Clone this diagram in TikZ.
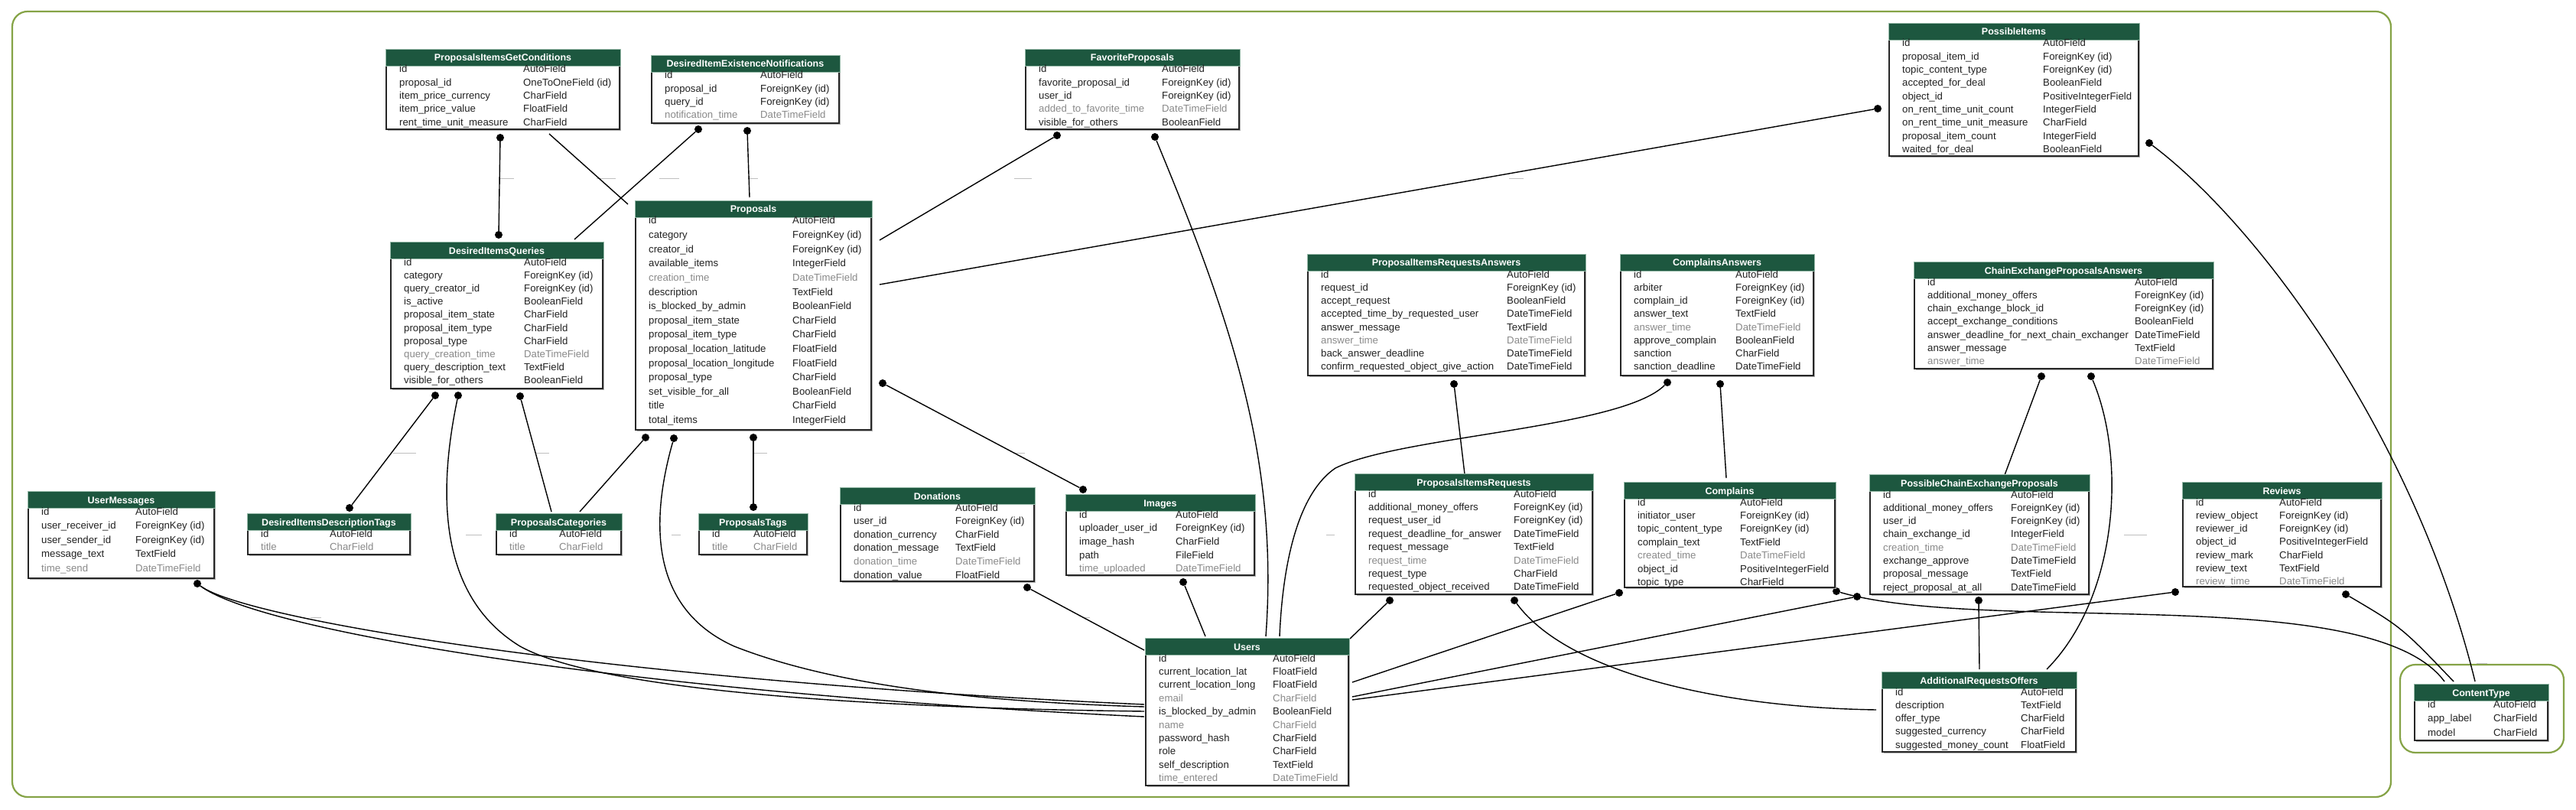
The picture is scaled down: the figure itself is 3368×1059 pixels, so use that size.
\documentclass[tikz,border=0pt]{standalone}
\usepackage{fontspec}
\setmainfont{Liberation Sans}
\definecolor{hdrgreen}{RGB}{29,87,63}
\definecolor{hdredge}{RGB}{150,185,168}
\definecolor{framegreen}{RGB}{133,163,70}
\definecolor{fldgray}{RGB}{138,138,138}
\definecolor{fldblack}{RGB}{34,34,34}
\newcommand{\FK}{ForeignKey (id)}
\tikzset{
  tabbody/.style={draw=black!85, fill=white, line width=1.6pt},
  tabshadow/.style={fill=black!30},
  tabhead/.style={fill=hdrgreen, draw=hdredge, line width=0.8pt},
  tabtitle/.style={text=white, font=\fontsize{12.5}{14}\selectfont\bfseries, inner sep=0, anchor=base},
  fld/.style={text=fldblack, font=\fontsize{13.2}{15}\selectfont, inner sep=0, anchor=base west},
  fldg/.style={fld, text=fldgray},
  dot/.style={circle, fill=black, inner sep=0, minimum size=10pt},
  rel/.style={draw=black, line width=1.4pt},
  lbl/.style={draw=black!25, line width=0.8pt},
  frame/.style={draw=framegreen, line width=2.2pt, rounded corners=20pt}
}
\newcommand{\ertable}[9]{%
  \fill[tabshadow] (#3+2,#4+2) rectangle (#5+2,#6+2);
  \draw[tabbody] (#3,#4) rectangle (#5,#6);
  \draw[tabhead] (#3-1,#4-1) rectangle (#5+1,#4+21);
  \node[tabtitle] (#1) at ({(#3+#5)/2},#4+15) {#2};
  \foreach \fn/\ft/\fs [count=\k] in {#9}{
    \node[\fs] (#1n\k) at (#3+17,{#4+30+(\k-1)*#8}) {\fn};
    \node[\fs] (#1t\k) at (#7,{#4+30+(\k-1)*#8}) {\ft};
  }%
}
\begin{document}
\begin{tikzpicture}[x=1pt,y=-1pt]
\fill[white] (0,0) rectangle (3368,1059);
\useasboundingbox (0,0) rectangle (3368,1059);
\draw[frame] (16,15) rectangle (3126,1042);
\draw[frame] (3138,869) rectangle (3352,984);

\foreach \xa/\xb/\yy in {654/672/233, 780/805/233, 862/888/233, 978/991/233, 1326/1349/233, 1973/1992/233,
  514/544/592, 700/718/592, 986/1003/592, 1326/1340/592, 609/630/699, 878/890/699, 1734/1745/699,
  2777/2807/699, 406/420/807, 1417/1425/807, 3238/3252/867}
  \draw[lbl] (\xa,\yy) -- (\xb,\yy);

\node[dot] (pigcD) at (654,180) {};
\node[dot] (diqU) at (652,307) {};
\node[dot] (dienD1) at (913,169) {};
\node[dot] (dienD2) at (977,171) {};
\node[dot] (favD1) at (1382,177) {};
\node[dot] (favD2) at (1510,179) {};
\node[dot] (positD1) at (2455,142) {};
\node[dot] (positD2) at (2810,187) {};
\node[dot] (propR) at (1154,501) {};
\node[dot] (imgU) at (1416,640) {};
\node[dot] (diqD1) at (569,517) {};
\node[dot] (diqD2) at (599,517) {};
\node[dot] (diqD3) at (680,518) {};
\node[dot] (didtU) at (457,664) {};
\node[dot] (propD1) at (844,572) {};
\node[dot] (propD2) at (881,573) {};
\node[dot] (propD3) at (985,572) {};
\node[dot] (ptagU) at (985,663) {};
\node[dot] (umD) at (258,763) {};
\node[dot] (donD) at (1343,768) {};
\node[dot] (imgD) at (1547,761) {};
\node[dot] (piraD) at (1901,502) {};
\node[dot] (caD1) at (2180,500) {};
\node[dot] (caD2) at (2249,502) {};
\node[dot] (cepaD1) at (2669,492) {};
\node[dot] (cepaD2) at (2734,492) {};
\node[dot] (pirD1) at (1817,785) {};
\node[dot] (pirD2) at (1980,785) {};
\node[dot] (compD1) at (2117,775) {};
\node[dot] (compD2) at (2401,773) {};
\node[dot] (pcepD1) at (2428,780) {};
\node[dot] (pcepD2) at (2587,785) {};
\node[dot] (revD1) at (2844,774) {};
\node[dot] (revD2) at (3067,777) {};

\coordinate (pigcR) at (718,175);
\coordinate (propTL) at (821,267);
\coordinate (diqTR) at (751,313);
\coordinate (propT) at (980,258);
\coordinate (propR1) at (1150,314);
\coordinate (propR2) at (1150,372);
\coordinate (usersT1) at (1576,832);
\coordinate (usersT2) at (1655,832);
\coordinate (usersT3) at (1673,832);
\coordinate (usersTR) at (1765,835);
\coordinate (usersL1) at (1496,850);
\coordinate (usersL2) at (1496,921);
\coordinate (usersL3) at (1496,924);
\coordinate (usersL4) at (1496,930);
\coordinate (usersL5) at (1496,937);
\coordinate (usersR1) at (1768,892);
\coordinate (usersR2) at (1768,911);
\coordinate (usersR3) at (1768,915);
\coordinate (pcatU1) at (721,669);
\coordinate (pcatU2) at (758,669);
\coordinate (pirU) at (1915,620);
\coordinate (compU) at (2257,625);
\coordinate (pcepU) at (2621,621);
\coordinate (aroU1) at (2588,875);
\coordinate (aroU2) at (2676,875);
\coordinate (aroL) at (2453,928);
\coordinate (ctypeU1) at (3196,891);
\coordinate (ctypeU2) at (3208,891);
\coordinate (ctypeU3) at (3236,891);

\draw[rel] (pigcD) -- (diqU);
\draw[rel] (pigcR) -- (propTL);
\draw[rel] (dienD1) -- (diqTR);
\draw[rel] (dienD2) -- (propT);
\draw[rel] (favD1) -- (propR1);
\draw[rel] (favD2) .. controls (1610,420) and (1672,600) .. (usersT2);
\draw[rel] (positD1) -- (propR2);
\draw[rel] (positD2) .. controls (2960,300) and (3160,580) .. (ctypeU3);
\draw[rel] (propR) -- (imgU);
\draw[rel] (diqD1) -- (didtU);
\draw[rel] (diqD2) .. controls (565,680) and (590,790) .. (680,845) .. controls (780,900) and (1100,925) .. (usersL4);
\draw[rel] (diqD3) -- (pcatU1);
\draw[rel] (propD1) -- (pcatU2);
\draw[rel] (propD2) .. controls (845,700) and (860,800) .. (960,845) .. controls (1100,900) and (1300,918) .. (usersL3);
\draw[rel] (propD3) -- (ptagU);
\draw[rel] (umD) .. controls (320,810) and (800,890) .. (usersL2);
\draw[rel] (umD) .. controls (340,825) and (820,905) .. (usersL5);
\draw[rel] (donD) -- (usersL1);
\draw[rel] (imgD) -- (usersT1);
\draw[rel] (piraD) -- (pirU);
\draw[rel] (caD1) .. controls (2120,560) and (1830,570) .. (1746,612) .. controls (1690,650) and (1676,760) .. (usersT3);
\draw[rel] (caD2) -- (compU);
\draw[rel] (cepaD1) -- (pcepU);
\draw[rel] (cepaD2) .. controls (2780,600) and (2770,780) .. (aroU2);
\draw[rel] (pirD1) -- (usersTR);
\draw[rel] (pirD2) .. controls (2050,880) and (2250,925) .. (aroL);
\draw[rel] (compD1) -- (usersR1);
\draw[rel] (pcepD1) -- (usersR2);
\draw[rel] (revD1) -- (usersR3);
\draw[rel] (compD2) .. controls (2600,830) and (3100,760) .. (ctypeU1);
\draw[rel] (revD2) .. controls (3140,820) .. (ctypeU2);
\draw[rel] (pcepD2) -- (aroU1);

\ertable{pigc}{ProposalsItemsGetConditions}{505}{65}{810}{169}{684}{17.3}{id/AutoField/fld,
  proposal\_id/OneToOneField (id)/fld, item\_price\_currency/CharField/fld,
  item\_price\_value/FloatField/fld, rent\_time\_unit\_measure/CharField/fld}
\ertable{dien}{DesiredItemExistenceNotifications}{852}{73}{1097}{161}{994}{17.3}{id/AutoField/fld,
  proposal\_id/\FK/fld, query\_id/\FK/fld, notification\_time/DateTimeField/fldg}
\ertable{fav}{FavoriteProposals}{1341}{65}{1620}{169}{1519}{17.3}{id/AutoField/fld,
  favorite\_proposal\_id/\FK/fld, user\_id/\FK/fld,
  added\_to\_favorite\_time/DateTimeField/fldg, visible\_for\_others/BooleanField/fld}
\ertable{posit}{PossibleItems}{2470}{31}{2796}{204}{2671}{17.3}{id/AutoField/fld,
  proposal\_item\_id/\FK/fld, topic\_content\_type/\FK/fld, accepted\_for\_deal/BooleanField/fld,
  object\_id/PositiveIntegerField/fld, on\_rent\_time\_unit\_count/IntegerField/fld,
  on\_rent\_time\_unit\_measure/CharField/fld, proposal\_item\_count/IntegerField/fld,
  waited\_for\_deal/BooleanField/fld}
\ertable{diq}{DesiredItemsQueries}{511}{317}{788}{508}{685}{17.2}{id/AutoField/fld,
  category/\FK/fld, query\_creator\_id/\FK/fld, is\_active/BooleanField/fld,
  proposal\_item\_state/CharField/fld, proposal\_item\_type/CharField/fld,
  proposal\_type/CharField/fld, query\_creation\_time/DateTimeField/fldg,
  query\_description\_text/TextField/fld, visible\_for\_others/BooleanField/fld}
\ertable{prop}{Proposals}{831}{263}{1139}{562}{1036}{18.6}{id/AutoField/fld,
  category/\FK/fld, creator\_id/\FK/fld, available\_items/IntegerField/fld,
  creation\_time/DateTimeField/fldg, description/TextField/fld,
  is\_blocked\_by\_admin/BooleanField/fld, proposal\_item\_state/CharField/fld,
  proposal\_item\_type/CharField/fld, proposal\_location\_latitude/FloatField/fld,
  proposal\_location\_longitude/FloatField/fld, proposal\_type/CharField/fld,
  set\_visible\_for\_all/BooleanField/fld, title/CharField/fld, total\_items/IntegerField/fld}
\ertable{pira}{ProposalItemsRequestsAnswers}{1710}{333}{2072}{491}{1970}{17.25}{id/AutoField/fld,
  request\_id/\FK/fld, accept\_request/BooleanField/fld,
  accepted\_time\_by\_requested\_user/DateTimeField/fld, answer\_message/TextField/fld,
  answer\_time/DateTimeField/fldg, back\_answer\_deadline/DateTimeField/fld,
  confirm\_requested\_object\_give\_action/DateTimeField/fld}
\ertable{ca}{ComplainsAnswers}{2119}{333}{2371}{491}{2269}{17.25}{id/AutoField/fld,
  arbiter/\FK/fld, complain\_id/\FK/fld, answer\_text/TextField/fld,
  answer\_time/DateTimeField/fldg, approve\_complain/BooleanField/fld,
  sanction/CharField/fld, sanction\_deadline/DateTimeField/fld}
\ertable{cepa}{ChainExchangeProposalsAnswers}{2503}{343}{2893}{482}{2791}{17.3}{id/AutoField/fld,
  additional\_money\_offers/\FK/fld, chain\_exchange\_block\_id/\FK/fld,
  accept\_exchange\_conditions/BooleanField/fld,
  answer\_deadline\_for\_next\_chain\_exchanger/DateTimeField/fld,
  answer\_message/TextField/fld, answer\_time/DateTimeField/fldg}
\ertable{um}{UserMessages}{37}{643}{280}{756}{177}{18.5}{id/AutoField/fld,
  user\_receiver\_id/\FK/fld, user\_sender\_id/\FK/fld, message\_text/TextField/fld,
  time\_send/DateTimeField/fldg}
\ertable{didt}{DesiredItemsDescriptionTags}{324}{672}{536}{725}{431}{17.5}{id/AutoField/fld,
  title/CharField/fldg}
\ertable{pcat}{ProposalsCategories}{649}{672}{812}{725}{731}{17.5}{id/AutoField/fld,
  title/CharField/fldg}
\ertable{ptag}{ProposalsTags}{914}{672}{1055}{725}{985}{17.5}{id/AutoField/fld,
  title/CharField/fldg}
\ertable{don}{Donations}{1099}{638}{1352}{760}{1249}{17.6}{id/AutoField/fld,
  user\_id/\FK/fld, donation\_currency/CharField/fld, donation\_message/TextField/fld,
  donation\_time/DateTimeField/fldg, donation\_value/FloatField/fld}
\ertable{img}{Images}{1394}{647}{1640}{752}{1537}{17.7}{id/AutoField/fld,
  uploader\_user\_id/\FK/fld, image\_hash/CharField/fld, path/FileField/fld,
  time\_uploaded/DateTimeField/fldg}
\ertable{pir}{ProposalsItemsRequests}{1772}{620}{2082}{777}{1979}{17.4}{id/AutoField/fld,
  additional\_money\_offers/\FK/fld, request\_user\_id/\FK/fld,
  request\_deadline\_for\_answer/DateTimeField/fld, request\_message/TextField/fld,
  request\_time/DateTimeField/fldg, request\_type/CharField/fld,
  requested\_object\_received/DateTimeField/fld}
\ertable{comp}{Complains}{2124}{631}{2399}{768}{2275}{17.4}{id/AutoField/fld,
  initiator\_user/\FK/fld, topic\_content\_type/\FK/fld, complain\_text/TextField/fld,
  created\_time/DateTimeField/fldg, object\_id/PositiveIntegerField/fld,
  topic\_type/CharField/fld}
\ertable{pcep}{PossibleChainExchangeProposals}{2445}{621}{2731}{777}{2629}{17.3}{id/AutoField/fld,
  additional\_money\_offers/\FK/fld, user\_id/\FK/fld, chain\_exchange\_id/IntegerField/fld,
  creation\_time/DateTimeField/fldg, exchange\_approve/DateTimeField/fld,
  proposal\_message/TextField/fld, reject\_proposal\_at\_all/DateTimeField/fld}
\ertable{rev}{Reviews}{2854}{631}{3113}{767}{2980}{17.3}{id/AutoField/fld,
  review\_object/\FK/fld, reviewer\_id/\FK/fld, object\_id/PositiveIntegerField/fld,
  review\_mark/CharField/fld, review\_text/TextField/fld, review\_time/DateTimeField/fldg}
\ertable{users}{Users}{1498}{835}{1763}{1027}{1664}{17.4}{id/AutoField/fld,
  current\_location\_lat/FloatField/fld, current\_location\_long/FloatField/fld,
  email/CharField/fldg, is\_blocked\_by\_admin/BooleanField/fld, name/CharField/fldg,
  password\_hash/CharField/fld, role/CharField/fld, self\_description/TextField/fld,
  time\_entered/DateTimeField/fldg}
\ertable{aro}{AdditionalRequestsOffers}{2461}{879}{2714}{983}{2642}{17.3}{id/AutoField/fld,
  description/TextField/fld, offer\_type/CharField/fld, suggested\_currency/CharField/fld,
  suggested\_money\_count/FloatField/fld}
\ertable{ctype}{ContentType}{3157}{895}{3331}{968}{3260}{18.7}{id/AutoField/fld,
  app\_label/CharField/fld, model/CharField/fld}
\end{tikzpicture}
\end{document}
